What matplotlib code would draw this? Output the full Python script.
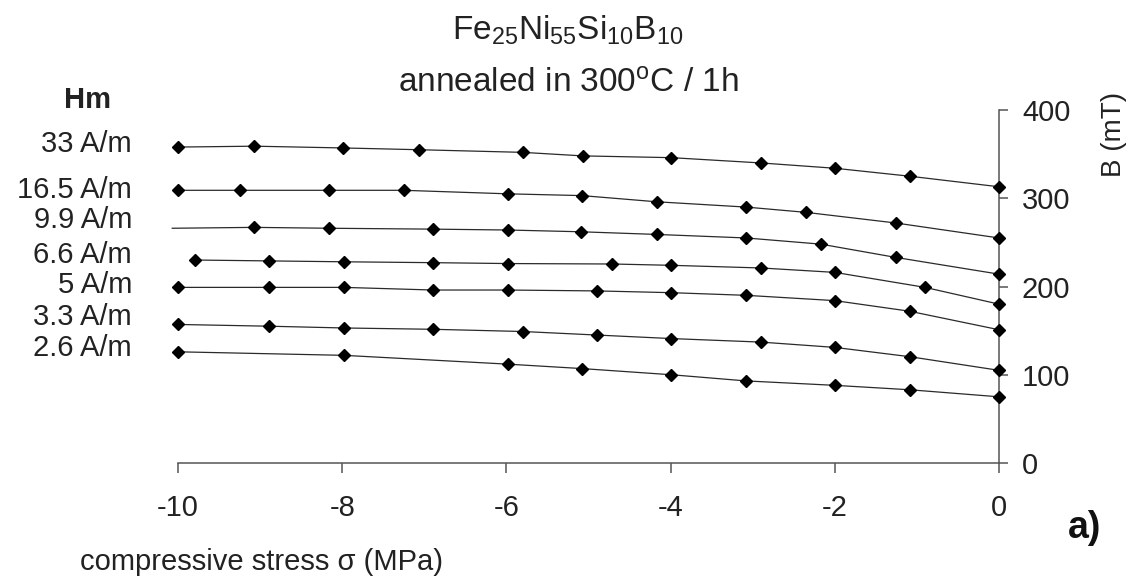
import matplotlib
matplotlib.use('Agg')
import matplotlib.pyplot as plt

plt.rcParams['font.family'] = ['Liberation Sans', 'DejaVu Sans']
plt.rcParams['mathtext.fontset'] = 'custom'
plt.rcParams['mathtext.rm'] = 'Liberation Sans'
plt.rcParams['mathtext.default'] = 'regular'

# B(sigma) curves for each Hm
hm_labels = ['33 A/m', '16.5 A/m', '9.9 A/m', '6.6 A/m', '5 A/m', '3.3 A/m', '2.6 A/m']

x_33 = [-10, -9.07, -7.99, -7.07, -5.80, -5.07, -3.99, -2.90, -2.00, -1.09, 0]
b_33 = [358, 359, 357, 355, 352, 348, 346, 340, 334, 325, 313]
x_16_5 = [-10, -9.25, -8.16, -7.25, -5.98, -5.08, -4.17, -3.08, -2.35, -1.26, 0]
b_16_5 = [309, 309, 309, 309, 305, 303, 296, 290, 284, 272, 255]
x_9_9 = [-10.07, -9.07, -8.16, -6.89, -5.98, -5.09, -4.17, -3.08, -2.17, -1.26, 0]
b_9_9 = [266, 267, 266, 265, 264, 262, 259, 255, 248, 233, 214]
x_6_6 = [-9.79, -8.89, -7.98, -6.89, -5.98, -4.71, -3.99, -2.90, -2.00, -0.90, 0]
b_6_6 = [230, 229, 228, 227, 226, 225.5, 224, 221, 216, 199, 180]
x_5 = [-10, -8.89, -7.98, -6.89, -5.98, -4.90, -3.99, -3.08, -2.00, -1.09, 0]
b_5 = [199, 199, 199, 196, 196, 195, 193, 190, 184, 172, 151]
x_3_3 = [-10, -8.89, -7.98, -6.89, -5.80, -4.90, -3.99, -2.90, -2.00, -1.09, 0]
b_3_3 = [157, 155, 153, 151.5, 149, 145, 141, 137, 131, 120.5, 105]
x_2_6 = [-10, -7.98, -5.98, -5.08, -3.99, -3.08, -2.00, -1.09, 0]
b_2_6 = [126, 122, 112, 107, 100, 93, 88, 83, 75]

x_ticks = [-10, -8, -6, -4, -2, 0]
y_ticks = [0, 100, 200, 300, 400]

series = [(x_33, b_33), (x_16_5, b_16_5), (x_9_9, b_9_9), (x_6_6, b_6_6),
          (x_5, b_5), (x_3_3, b_3_3), (x_2_6, b_2_6)]

fig = plt.figure(figsize=(11.31, 5.8), dpi=100)
ax = fig.add_axes([178/1131, 117/580, 821/1131, 353/580])

for i, (xs, bs) in enumerate(series):
    # the 9.9 A/m line starts without a marker
    marks = list(range(1, len(xs))) if hm_labels[i] == '9.9 A/m' else None
    ax.plot(xs, bs, '-', color='#2a2a2a', linewidth=0.9, marker='D',
            markersize=6.3, markerfacecolor='black', markeredgecolor='black',
            markevery=marks, clip_on=False, zorder=3)

ax.set_xlim(-10, 0)
ax.set_ylim(0, 400)
ax.set_xticks(x_ticks)
ax.set_yticks(y_ticks)
ax.set_xticklabels([str(t) for t in x_ticks])

for s in ['left', 'top']:
    ax.spines[s].set_visible(False)
for s in ['right', 'bottom']:
    ax.spines[s].set_color('#555555')
    ax.spines[s].set_linewidth(1.1)
ax.yaxis.tick_right()
ax.tick_params(axis='both', direction='out', color='#555555', width=1.1,
               labelsize=21, labelcolor='#222222')
ax.tick_params(axis='x', length=7, pad=15)
ax.tick_params(axis='y', length=6.5, pad=10)

# Hm labels on the left
label_y = [144, 190, 220, 255, 285, 317, 348]
fig.text(87/1131, 1 - 100/580, 'Hm', fontsize=21, fontweight='bold',
         ha='center', va='center', color='#222222')
for lab, py in zip(hm_labels, label_y):
    fig.text(132/1131, 1 - py/580, lab, fontsize=21, ha='right', va='center',
             color='#222222')

# titles
fig.text(568/1131, 1 - 30/580, r'Fe$_{25}$Ni$_{55}$Si$_{10}$B$_{10}$',
         fontsize=24, ha='center', va='center', color='#222222')
fig.text(568/1131, 1 - 84/580, r'annealed in 300$^{o}$C / 1h',
         fontsize=24, ha='center', va='center', color='#222222')

fig.text(80/1131, 1 - 570/580, r'compressive stress σ (MPa)', fontsize=21,
         ha='left', va='baseline', color='#222222')
fig.text(1114/1131, 1 - 134/580, 'B (mT)', fontsize=20, rotation=90,
         ha='center', va='center', color='#222222')
fig.text(1068/1131, 1 - 538/580, 'a)', fontsize=27, fontweight='bold',
         ha='left', va='baseline', color='#111111')

fig.savefig('out.png', dpi=100)
